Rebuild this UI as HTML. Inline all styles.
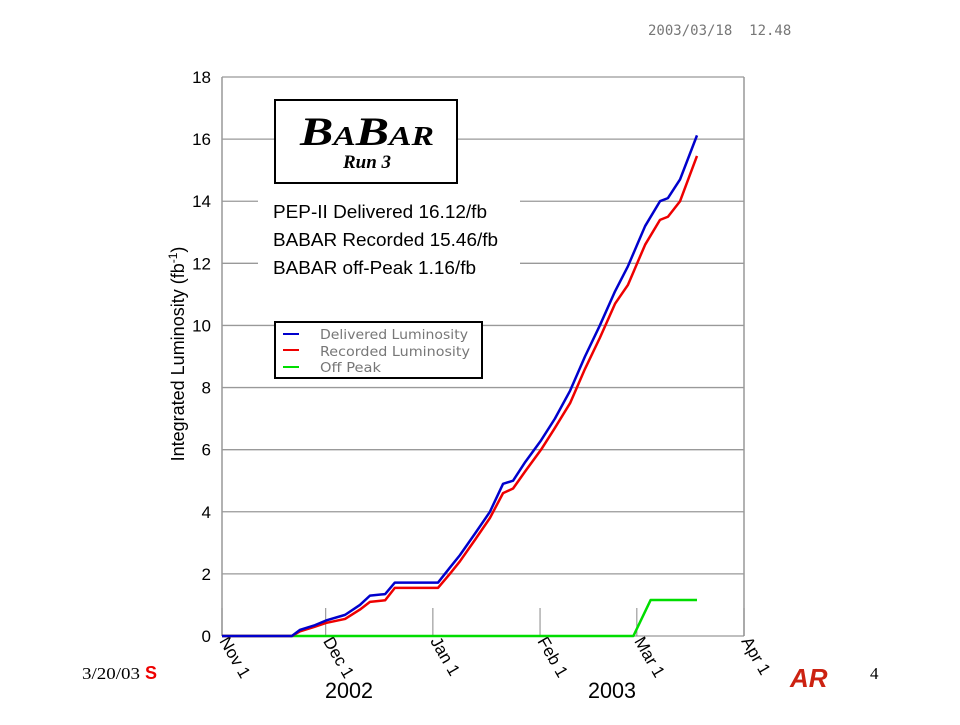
<!DOCTYPE html>
<html><head><meta charset="utf-8"><style>
body{margin:0;background:#fff;width:960px;height:720px;overflow:hidden;font-family:"Liberation Sans",sans-serif}
</style></head><body>
<svg width="960" height="720" xmlns="http://www.w3.org/2000/svg">
<text x="648" y="35" font-family="DejaVu Sans Mono,monospace" font-size="14" fill="#777" xml:space="preserve">2003/03/18  12.48</text>
<g id="grid"></g>
<g id="yticks"></g>
<g id="xticks"></g>
<text transform="translate(184,354) rotate(-90)" text-anchor="middle" font-size="18">Integrated Luminosity (fb<tspan dy="-7" font-size="12">-1</tspan><tspan dy="7">)</tspan></text>
<text x="349" y="698" text-anchor="middle" font-size="22" textLength="48" lengthAdjust="spacingAndGlyphs">2002</text>
<text x="612" y="698" text-anchor="middle" font-size="22" textLength="48" lengthAdjust="spacingAndGlyphs">2003</text>
<rect x="258" y="186" width="262" height="96" fill="#fff"/>
<rect x="275" y="100" width="182" height="83" fill="#fff" stroke="#000" stroke-width="2"/>
<text x="367" y="145" text-anchor="middle" font-family="Liberation Serif,serif" font-style="italic" font-weight="bold" font-size="40" textLength="134" lengthAdjust="spacingAndGlyphs">B<tspan font-size="27">A</tspan>B<tspan font-size="27">AR</tspan></text>
<text x="367" y="168" text-anchor="middle" font-family="Liberation Serif,serif" font-style="italic" font-weight="bold" font-size="19">Run 3</text>
<g font-size="18" xml:space="preserve">
<text x="273" y="218" textLength="214" lengthAdjust="spacingAndGlyphs">PEP-II Delivered  16.12/fb</text>
<text x="273" y="246" textLength="225" lengthAdjust="spacingAndGlyphs">BABAR Recorded  15.46/fb</text>
<text x="273" y="274" textLength="203" lengthAdjust="spacingAndGlyphs">BABAR off-Peak  1.16/fb</text>
</g>
<g>
<rect x="275" y="322" width="207" height="56" fill="#fff" stroke="#000" stroke-width="2"/>
<line x1="283" y1="334" x2="299" y2="334" stroke="#00c" stroke-width="2"/>
<line x1="283" y1="350" x2="299" y2="350" stroke="#e00" stroke-width="2"/>
<line x1="283" y1="367" x2="299" y2="367" stroke="#0d0" stroke-width="2"/>
<g font-family="DejaVu Sans,sans-serif" font-size="13" fill="#777">
<text x="320" y="339" textLength="148" lengthAdjust="spacingAndGlyphs">Delivered Luminosity</text>
<text x="320" y="356" textLength="150" lengthAdjust="spacingAndGlyphs">Recorded Luminosity</text>
<text x="320" y="372" textLength="61" lengthAdjust="spacingAndGlyphs">Off Peak</text></g>
</g>
<g id="series"></g>
<text x="82" y="679" font-family="Liberation Serif,serif" font-size="17" textLength="58" lengthAdjust="spacingAndGlyphs">3/20/03</text>
<text x="145" y="679" font-weight="bold" font-size="18" fill="#e00">S</text>
<rect x="159" y="660" width="20" height="25" fill="#fff"/>
<text x="790" y="687" font-weight="bold" font-style="italic" font-size="26" fill="#c21">AR</text>
<text x="870" y="679" font-family="Liberation Serif,serif" font-size="17">4</text>
</svg>
<script>
const yTicks=[0,2,4,6,8,10,12,14,16,18];
const monthLabels=["Nov 1","Dec 1","Jan 1","Feb 1","Mar 1","Apr 1"];
const monthDays=[0,30,61,92,120,151];
const delDays=[0,20.2,22.6,26.9,30.1,35.6,39.9,42.8,47.2,50.0,62.5,65.9,68.8,73.2,77.5,81.3,84.2,87.7,92.3,96.3,100.7,105.0,109.3,113.7,117.4,122.4,126.7,129.0,132.5,137.4];
const delVals=[0,0,0.2,0.35,0.5,0.68,1.0,1.3,1.35,1.72,1.72,2.2,2.6,3.3,4.0,4.9,5.0,5.6,6.3,7.0,7.9,9.0,10.0,11.1,11.9,13.2,14.0,14.1,14.7,16.12];
const recVals=[0,0,0.15,0.3,0.42,0.55,0.85,1.1,1.15,1.55,1.55,2.0,2.4,3.1,3.8,4.6,4.75,5.3,6.0,6.7,7.5,8.6,9.6,10.7,11.3,12.6,13.4,13.5,14.0,15.46];
const offDays=[0,119,124,137.4];
const offVals=[0,0,1.16,1.16];
const X0=222,X1=744,Y0=636,Y1=77;
const xs=d=>X0+d*(X1-X0)/151, ys=v=>Y0-v*(Y0-Y1)/18;
const NS="http://www.w3.org/2000/svg";
function mk(t,a,p){const e=document.createElementNS(NS,t);for(const k in a)e.setAttribute(k,a[k]);p.appendChild(e);return e;}
const grid=document.getElementById('grid'),yt=document.getElementById('yticks'),xt=document.getElementById('xticks'),ser=document.getElementById('series');
mk('line',{x1:X0,x2:X0,y1:Y1,y2:Y0,stroke:'#999','stroke-width':1.5},grid);
mk('line',{x1:X1,x2:X1,y1:Y1,y2:Y0,stroke:'#999','stroke-width':1.5},grid);
yTicks.forEach(v=>{const l=mk('line',{x1:X0,x2:X1,y1:ys(v),y2:ys(v),stroke:'#999','stroke-width':1.3},grid);


const t=mk('text',{x:211,y:ys(v)+6,'text-anchor':'end','font-size':17},yt);t.textContent=v;

});
monthDays.forEach((d,i)=>{const l=mk('line',{x1:xs(d),x2:xs(d),y1:Y0-28,y2:Y0,stroke:'#888','stroke-width':1},grid);


const t=mk('text',{transform:`translate(${xs(d)-3},${Y0+5}) rotate(60)`,'font-size':17},xt);t.textContent=monthLabels[i];

});
function line(dd,vv,c,n){const p=mk('polyline',{points:dd.map((d,i)=>xs(d)+','+ys(vv[i])).join(' '),fill:'none',stroke:c,'stroke-width':2.5,'stroke-linejoin':'round'},ser);

}
line(offDays,offVals,'#0d0','off-peak-line');
line(delDays,recVals,'#e00','recorded-line');
line(delDays,delVals,'#00c','delivered-line');
</script>
</body></html>
